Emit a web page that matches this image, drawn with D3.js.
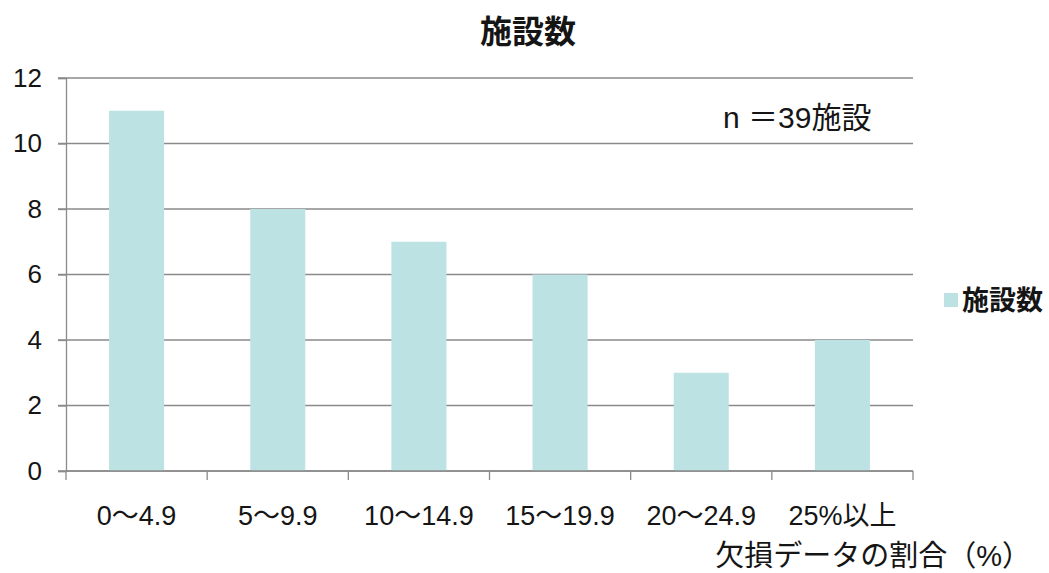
<!DOCTYPE html>
<html>
<head>
<meta charset="utf-8">
<script src="https://cdn.jsdelivr.net/npm/d3@7"></script>
<style>
  html, body { margin: 0; padding: 0; background: #ffffff; }
  svg { display: block; }
  text { font-family: "Liberation Sans", Arial, "Noto Sans CJK JP", sans-serif; fill: #151515; }
</style>
</head>
<body>
<svg id="chart" width="1049" height="573"></svg>
<script>
// Facility counts by share of missing data
const categories = ["0～4.9", "5～9.9", "10～14.9", "15～19.9", "20～24.9", "25%以上"];
const counts = [11, 8, 7, 6, 3, 4];
const yTicks = [0, 2, 4, 6, 8, 10, 12];
const seriesName = "施設数";
const chartTitle = "施設数";
const xTitle = "欠損データの割合（%）";
const note = "n ＝39施設";

const svg = d3.select("#chart");
const margin = { left: 66, right: 1049 - 913, top: 78, bottom: 573 - 471 };
const width = 1049, height = 573;

const x = d3.scaleBand()
  .domain(categories)
  .range([margin.left, width - margin.right])
  .paddingInner(0.61)
  .paddingOuter(0.305);

const y = d3.scaleLinear()
  .domain([0, 12])
  .range([height - margin.bottom, margin.top]);

const barColor = "#bde2e4";
const gridColor = "#8a8a8a";

// horizontal gridlines
svg.append("g")
  .selectAll("line")
  .data(yTicks)
  .join("line")
  .attr("x1", margin.left - 8)
  .attr("x2", width - margin.right)
  .attr("y1", d => y(d))
  .attr("y2", d => y(d))
  .attr("stroke", gridColor)
  .attr("stroke-width", 1.3);

// bars
svg.append("g")
  .selectAll("rect")
  .data(counts)
  .join("rect")
  .attr("x", (d, i) => x(categories[i]))
  .attr("y", d => y(d))
  .attr("width", x.bandwidth())
  .attr("height", d => y(0) - y(d))
  .attr("fill", barColor);

// y axis
const yAxis = svg.append("g")
  .attr("transform", `translate(${margin.left},0)`)
  .call(d3.axisLeft(y).tickValues(yTicks).tickSize(8).tickPadding(16));
yAxis.select(".domain").attr("stroke", gridColor).attr("stroke-width", 1.3);
yAxis.selectAll(".tick line").attr("stroke", gridColor).attr("stroke-width", 1.3);
yAxis.selectAll(".tick text")
  .style("font-size", "26px")
  .attr("fill", "#151515");

// x axis: ticks sit on category boundaries
const step = x.step();
const bounds = d3.range(categories.length + 1).map(i => margin.left + i * step);
const xg = svg.append("g");
xg.append("line")
  .attr("x1", margin.left).attr("x2", width - margin.right)
  .attr("y1", y(0)).attr("y2", y(0))
  .attr("stroke", gridColor).attr("stroke-width", 1.3);
xg.selectAll("line.tk")
  .data(bounds)
  .join("line")
  .attr("class", "tk")
  .attr("x1", d => d).attr("x2", d => d)
  .attr("y1", y(0)).attr("y2", y(0) + 9)
  .attr("stroke", gridColor).attr("stroke-width", 1.3);
xg.selectAll("text")
  .data(categories)
  .join("text")
  .attr("x", d => x(d) + x.bandwidth() / 2)
  .attr("y", 525)
  .attr("text-anchor", "middle")
  .style("font-size", "27px")
  .text(d => d);

// title
svg.append("text")
  .attr("x", 528).attr("y", 43)
  .attr("text-anchor", "middle")
  .style("font-size", "32px")
  .style("font-weight", "bold")
  .text(chartTitle);

// sample size note
svg.append("text")
  .attr("x", 723).attr("y", 128)
  .style("font-size", "30px")
  .text(note);

// x axis title
svg.append("text")
  .attr("x", 1031).attr("y", 566)
  .attr("text-anchor", "end")
  .style("font-size", "29px")
  .text(xTitle);

// legend
const lg = svg.append("g");
lg.append("rect")
  .attr("x", 944).attr("y", 293)
  .attr("width", 14).attr("height", 14)
  .attr("fill", barColor);
lg.append("text")
  .attr("x", 962).attr("y", 310)
  .style("font-size", "27px")
  .style("font-weight", "bold")
  .text(seriesName);
</script>
</body>
</html>
